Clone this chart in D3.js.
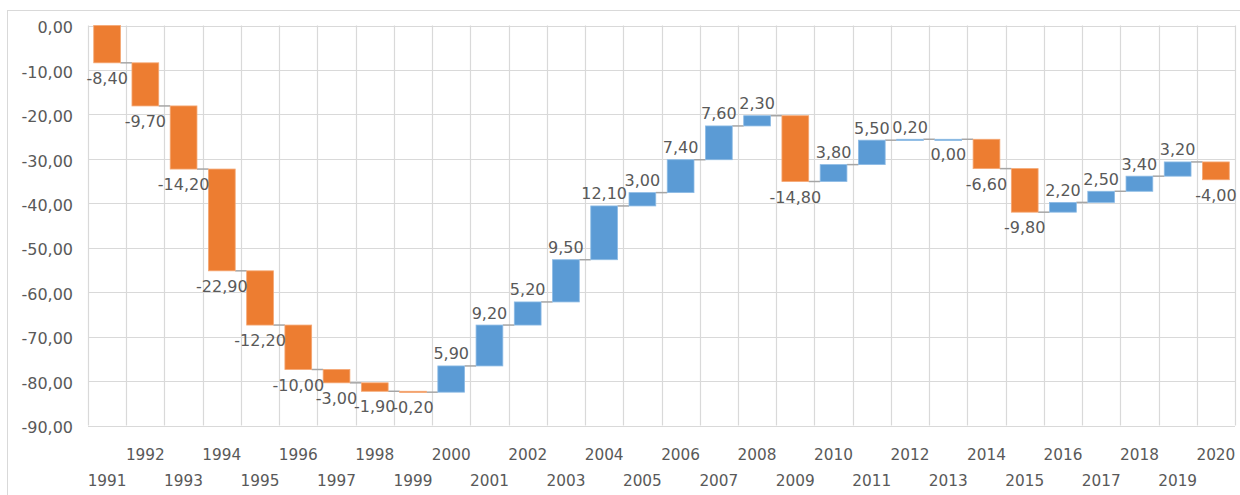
<!DOCTYPE html>
<html><head><meta charset="utf-8">
<script src="https://cdn.jsdelivr.net/npm/d3@7"></script>
<style>body{margin:0;background:#fff}svg{display:block}text{font-family:"DejaVu Sans",sans-serif;fill:#595959}</style>
</head><body><svg id="c" width="1240" height="495"></svg>
<script>
const years = ["1991","1992","1993","1994","1995","1996","1997","1998","1999","2000","2001","2002","2003","2004","2005","2006","2007","2008","2009","2010","2011","2012","2013","2014","2015","2016","2017","2018","2019","2020"];
const values = [-8.40,-9.70,-14.20,-22.90,-12.20,-10.00,-3.00,-1.90,-0.20,5.90,9.20,5.20,9.50,12.10,3.00,7.40,7.60,2.30,-14.80,3.80,5.50,0.20,0.00,-6.60,-9.80,2.20,2.50,3.40,3.20,-4.00];
const yTicks = [0,-10,-20,-30,-40,-50,-60,-70,-80,-90];

const svg = d3.select("#c");
const L = 88, R = 1235, T = 25.5, B = 425.5;
const x = d3.scaleBand().domain(years).range([L, R]).paddingInner(0.3).paddingOuter(0.15);
const y = d3.scaleLinear().domain([-90, 0]).range([B, T]);
const fmt = v => v.toFixed(2).replace(".", ",");

// outer border
svg.append("rect").attr("x",7.5).attr("y",10.5).attr("width",1240).attr("height",490)
  .attr("fill","none").attr("stroke","#d9d9d9");

// data cumul
let run = 0;
const rows = years.map((yr,i)=>{ const s = run; run += values[i]; return {yr, v: values[i], start: s, end: run}; });

// gridlines
const step = x.step();
svg.append("g").selectAll("line.h").data(yTicks).join("line")
  .attr("x1",L).attr("x2",R).attr("y1",d=>Math.round(y(d))+0.5).attr("y2",d=>Math.round(y(d))+0.5)
  .attr("stroke","#d9d9d9").attr("stroke-width",1.2);
svg.append("g").selectAll("line.v").data(d3.range(years.length+1)).join("line")
  .attr("x1",i=>Math.round(L+i*step)+0.5).attr("x2",i=>Math.round(L+i*step)+0.5).attr("y1",T).attr("y2",B)
  .attr("stroke","#d9d9d9").attr("stroke-width",1.2);

// y axis labels
const yAxis = d3.axisLeft(y).tickValues(yTicks).tickFormat(fmt).tickSize(0).tickPadding(0);
const ya = svg.append("g").attr("transform","translate(73,0)").call(yAxis);
ya.select(".domain").remove();
ya.selectAll("text").attr("font-size",16).attr("font-family","DejaVu Sans").attr("fill","#595959").attr("dy","0.45em");

// x axis labels (staggered)
svg.append("g").selectAll("text").data(years).join("text")
  .attr("x",d=>x(d)+x.bandwidth()/2)
  .attr("y",(d,i)=> i%2===1 ? 459.5 : 486)
  .attr("text-anchor","middle").attr("font-size",15.3).text(d=>d);

// connectors
svg.append("g").selectAll("line").data(rows.slice(0,-1)).join("line")
  .attr("x1",(d)=>x(d.yr)+x.bandwidth()).attr("x2",(d,i)=>x(years[i+1]))
  .attr("y1",d=>y(d.end)).attr("y2",d=>y(d.end))
  .attr("stroke","#a5a5a5").attr("stroke-width",1.5);

// bars
svg.append("g").selectAll("rect").data(rows).join("rect")
  .attr("x",d=>x(d.yr)).attr("width",x.bandwidth())
  .attr("y",d=>y(Math.max(d.start,d.end)))
  .attr("height",d=>Math.max(1.2, Math.abs(y(d.start)-y(d.end))))
  .attr("fill",d=>d.v<0?"#ed7d31":"#5b9bd5")
  .attr("stroke",d=>d.v<0?"#f4a774":"#8dbbe5").attr("stroke-width",0.8);

// data labels
svg.append("g").selectAll("text").data(rows).join("text")
  .attr("x",d=>x(d.yr)+x.bandwidth()/2)
  .attr("y",d=> d.v>0 ? y(Math.max(d.start,d.end))-6.5 : y(Math.min(d.start,d.end))+21)
  .attr("text-anchor","middle").attr("font-size",16).text(d=>fmt(d.v));
</script></body></html>
